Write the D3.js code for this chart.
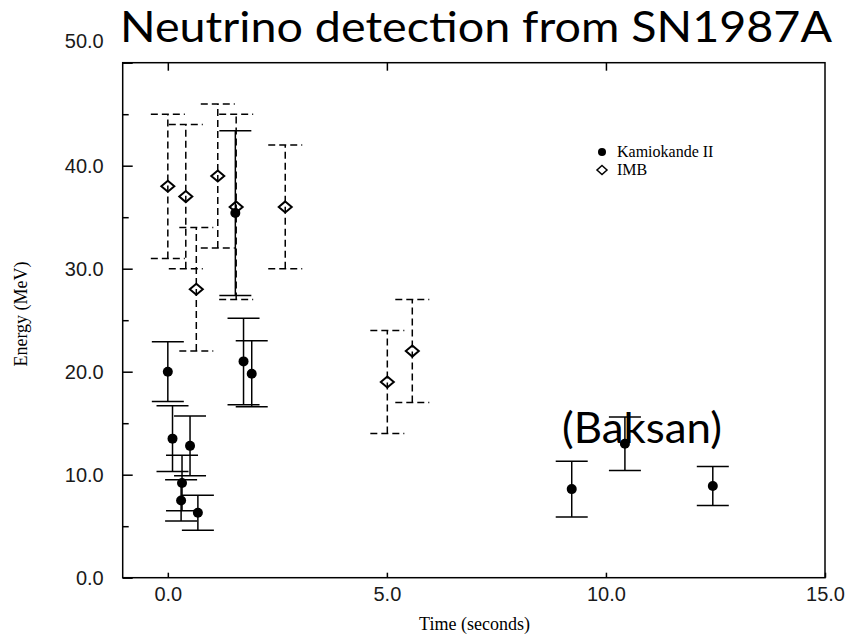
<!DOCTYPE html>
<html lang="en">
<head>
	<meta charset="UTF-8">
	<title>Neutrino detection from SN1987A</title>
	<script src="https://cdn.jsdelivr.net/npm/d3@7"></script>
	<style>
		body { margin: 0; background: #fff; }
		.axis path { display: none; }
		.axis line { stroke: #000; stroke-width: 1.5; }
		.axis text {
			font-family: "Liberation Sans", Arial, sans-serif;
			font-size: 20px;
			fill: #1a1a1a;
		}
		.atitle { font-family: "Liberation Serif", "Times New Roman", serif; font-size: 18px; fill: #000; }
	</style>
</head>
<body>
	<div id="chart"></div>
	<script>
		// Kamiokande II events (time s, energy MeV, error)
		var kamTime = [0.000, 0.107, 0.303, 0.324, 0.507, 0.686, 1.541, 1.728, 1.915, 9.219, 10.433, 12.439];
		var kamEnergy = [20.0, 13.5, 7.5, 9.2, 12.8, 6.3, 35.4, 21.0, 19.8, 8.6, 13.0, 8.9];
		var kamErr = [2.9, 3.2, 2.0, 2.7, 2.9, 1.7, 8.0, 4.2, 3.2, 2.7, 2.6, 1.9];

		// IMB events
		var imbTime = [0.00, 0.41, 0.65, 1.14, 1.56, 2.68, 5.01, 5.58];
		var imbEnergy = [38, 37, 28, 39, 36, 36, 19, 22];
		var imbErr = [7, 7, 6, 7, 9, 6, 5, 5];

		var xTicks = [0, 5, 10, 15];
		var yTicks = [0, 10, 20, 30, 40, 50];
		var yMinor = [5, 15, 25, 35, 45];
		var legendNames = ["Kamiokande II", "IMB"];

		var w = 861, h = 639;
		var margin = {top: 62.7, right: 36, bottom: 61.3, left: 122.7},
			width = w - margin.left - margin.right,
			height = h - margin.top - margin.bottom;

		var svg = d3.select("#chart").append("svg")
			.attr("width", w)
			.attr("height", h);

		var g = svg.append("g")
			.attr("transform", `translate(${margin.left},${margin.top})`);

		var x = d3.scaleLinear().domain([-1.03, 15]).range([0, width]);
		var y = d3.scaleLinear().domain([0, 50]).range([height, 0]);
		var fmt = d3.format(".1f");

		// axes
		g.append("g")
			.attr("class", "axis")
			.attr("transform", `translate(0,${height})`)
			.call(d3.axisBottom(x).tickValues(xTicks).tickSize(-5).tickPadding(9).tickFormat(fmt));

		g.append("g")
			.attr("class", "axis")
			.call(d3.axisTop(x).tickValues(xTicks.slice(0, 3)).tickSize(-8).tickFormat(""));

		var yAxis = g.append("g")
			.attr("class", "axis")
			.call(d3.axisLeft(y).tickValues(yTicks).tickSize(-10).tickPadding(19).tickFormat(fmt));
		yAxis.selectAll(".tick text").filter(d => d === 50).attr("dy", "-0.75em");

		g.append("g")
			.attr("class", "axis")
			.call(d3.axisLeft(y).tickValues(yMinor).tickSize(-6).tickFormat(""));

		g.append("rect")
			.attr("width", width)
			.attr("height", height)
			.attr("fill", "none")
			.attr("stroke", "#000")
			.attr("stroke-width", 1.5);

		// error bars + markers
		function drawBars(times, vals, errs, half, dash) {
			var bars = g.append("g")
				.attr("stroke", "#000")
				.attr("stroke-width", 1.5)
				.attr("stroke-dasharray", dash);
			times.forEach((t, i) => {
				var lo = vals[i] - errs[i], hi = vals[i] + errs[i];
				bars.append("line")
					.attr("x1", x(t)).attr("x2", x(t))
					.attr("y1", y(lo)).attr("y2", y(hi));
				[lo, hi].forEach(v => {
					bars.append("line")
						.attr("x1", x(t) - half).attr("x2", x(t) + half)
						.attr("y1", y(v)).attr("y2", y(v));
				});
			});
		}

		var diamond = "M0,-5.5L6.5,0L0,5.5L-6.5,0Z";

		g.selectAll(".imb")
			.data(imbTime)
			.enter()
			.append("path")
			.attr("class", "imb")
			.attr("d", diamond)
			.attr("transform", (d, i) => `translate(${x(d)},${y(imbEnergy[i])})`)
			.attr("fill", "#fff")
			.attr("stroke", "#000")
			.attr("stroke-width", 2);
		drawBars(imbTime, imbEnergy, imbErr, 17, "7,4");

		drawBars(kamTime, kamEnergy, kamErr, 16, null);
		g.selectAll(".kam")
			.data(kamTime)
			.enter()
			.append("circle")
			.attr("class", "kam")
			.attr("cx", d => x(d))
			.attr("cy", (d, i) => y(kamEnergy[i]))
			.attr("r", 5)
			.attr("fill", "#000");

		// legend
		var legend = svg.append("g").attr("transform", "translate(602,152)");
		legend.append("circle").attr("r", 4).attr("fill", "#000");
		legend.append("path")
			.attr("d", "M0,-4.5L5,0L0,4.5L-5,0Z")
			.attr("transform", "translate(0,18)")
			.attr("fill", "#fff")
			.attr("stroke", "#000")
			.attr("stroke-width", 1.5);
		legend.selectAll("text")
			.data(legendNames)
			.enter()
			.append("text")
			.attr("x", 15)
			.attr("y", (d, i) => i * 18 + 5)
			.attr("class", "atitle")
			.style("font-size", "16px")
			.text(d => d);

		// axis titles
		svg.append("text")
			.attr("class", "atitle")
			.attr("x", margin.left + x(7))
			.attr("y", 630)
			.attr("text-anchor", "middle")
			.text("Time (seconds)");

		svg.append("text")
			.attr("class", "atitle")
			.attr("transform", "translate(27,314) rotate(-90)")
			.attr("text-anchor", "middle")
			.text("Energy (MeV)");

		// title and annotation
		svg.append("text")
			.attr("x", 120)
			.attr("y", 42)
			.attr("textLength", 712)
			.attr("lengthAdjust", "spacingAndGlyphs")
			.style("font-family", "Lato, 'Open Sans', sans-serif")
			.style("font-size", "43px")
			.text("Neutrino detection from SN1987A");

		svg.append("text")
			.attr("x", 562)
			.attr("y", 443)
			.attr("textLength", 160)
			.attr("lengthAdjust", "spacingAndGlyphs")
			.style("font-family", "Lato, 'Open Sans', sans-serif")
			.style("font-size", "42px")
			.text("(Baksan)");
	</script>
</body>
</html>
